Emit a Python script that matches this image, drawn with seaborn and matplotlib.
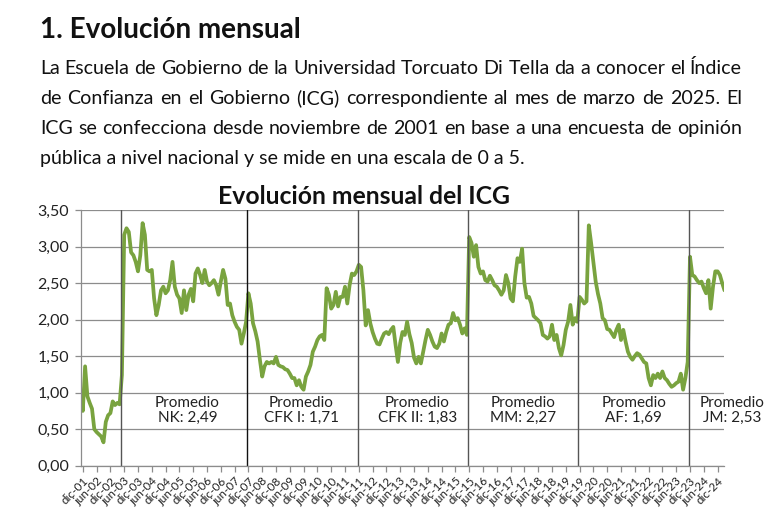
import matplotlib
matplotlib.use('Agg')
import matplotlib.pyplot as plt
import pandas as pd
import seaborn as sns

# ICG mensual (nov-01 a mar-25), separados por gobierno
icg_previo = [1.01, 0.75, 1.36, 0.95, 0.86, 0.78, 0.50, 0.46, 0.43, 0.40,
              0.32, 0.60, 0.69, 0.72, 0.88, 0.83, 0.86, 0.84, 1.24]
icg_nk = [3.16, 3.25, 3.20, 2.92, 2.88, 2.79, 2.66, 2.88, 3.32,
          3.16, 2.68, 2.66, 2.68, 2.29, 2.06, 2.20, 2.40, 2.45, 2.36,
          2.40, 2.54, 2.79, 2.45, 2.34, 2.29, 2.09, 2.40, 2.13, 2.34,
          2.42, 2.25, 2.63, 2.70, 2.61, 2.50, 2.68, 2.52, 2.47, 2.50,
          2.54, 2.47, 2.34, 2.52, 2.68, 2.56, 2.20, 2.22, 2.06, 1.97,
          1.90, 1.86, 1.67, 1.81, 1.97]
icg_cfk1 = [2.36, 2.22, 1.95, 1.84, 1.70, 1.45, 1.22, 1.36, 1.42, 1.40,
            1.42, 1.40, 1.49, 1.38, 1.36, 1.35, 1.32, 1.31, 1.26, 1.20,
            1.20, 1.10, 1.17, 1.08, 1.04, 1.22, 1.29, 1.38, 1.56, 1.63,
            1.72, 1.77, 1.79, 1.72, 2.43, 2.34, 2.15, 2.20, 2.38, 2.18,
            2.31, 2.31, 2.45, 2.22, 2.47, 2.63, 2.61, 2.66]
icg_cfk2 = [2.75, 2.72, 2.40, 1.92, 2.13, 1.95, 1.83, 1.74, 1.67, 1.66,
            1.74, 1.81, 1.83, 1.80, 1.86, 1.90, 1.65, 1.42, 1.68, 1.83,
            1.79, 1.97, 1.80, 1.68, 1.48, 1.40, 1.49, 1.40, 1.56, 1.72,
            1.86, 1.79, 1.70, 1.63, 1.61, 1.67, 1.81, 1.70, 1.83, 1.93,
            1.95, 2.09, 1.99, 2.02, 1.93, 1.81, 1.88, 1.79]
icg_mm = [3.13, 3.05, 2.86, 3.02, 2.72, 2.63, 2.66, 2.54, 2.52, 2.60,
          2.54, 2.47, 2.45, 2.40, 2.34, 2.40, 2.61, 2.50, 2.29, 2.25,
          2.59, 2.84, 2.79, 2.97, 2.50, 2.30, 2.31, 2.22, 2.05, 2.02,
          1.99, 1.95, 1.79, 1.77, 1.74, 1.77, 1.93, 1.72, 1.79, 1.61,
          1.51, 1.65, 1.86, 1.97, 2.20, 1.93, 2.02, 1.97]
icg_af = [2.31, 2.27, 2.22, 2.25, 3.29, 3.05, 2.79, 2.52, 2.35, 2.22,
          2.02, 1.99, 1.87, 1.86, 1.81, 1.76, 1.86, 1.93, 1.72, 1.86,
          1.70, 1.56, 1.49, 1.45, 1.50, 1.54, 1.52, 1.47, 1.42, 1.40,
          1.20, 1.10, 1.24, 1.20, 1.26, 1.20, 1.29, 1.20, 1.17, 1.12,
          1.08, 1.10, 1.13, 1.15, 1.26, 1.04, 1.20, 1.42]
icg_jm = [2.86, 2.61, 2.59, 2.54, 2.50, 2.52, 2.43, 2.36, 2.54, 2.15,
          2.45, 2.66, 2.66, 2.61, 2.50, 2.40]

meses_abrev = ['ene', 'feb', 'mar', 'abr', 'may', 'jun',
               'jul', 'ago', 'sep', 'oct', 'nov', 'dic']
cambios_gobierno = ['may-03', 'dic-07', 'dic-11', 'dic-15', 'dic-19', 'dic-23']
promedios = ['NK: 2,49', 'CFK I: 1,71', 'CFK II: 1,83', 'MM: 2,27', 'AF: 1,69', 'JM: 2,53']

titulo = '1. Evolución mensual'
parrafo = [
    'La Escuela de Gobierno de la Universidad Torcuato Di Tella da a conocer el Índice',
    'de Confianza en el Gobierno (ICG) correspondiente al mes de marzo de 2025. El',
    'ICG se confecciona desde noviembre de 2001 en base a una encuesta de opinión',
    'pública a nivel nacional y se mide en una escala de 0 a 5.',
]
titulo_grafico = 'Evolución mensual del ICG'

icg = icg_previo + icg_nk + icg_cfk1 + icg_cfk2 + icg_mm + icg_af + icg_jm
meses = []
for k in range(len(icg)):
    m = 10 + k
    meses.append(f'{meses_abrev[m % 12]}-{(2001 + m // 12) % 100:02d}')
df = pd.DataFrame({'n': range(len(icg)), 'mes': meses, 'icg': icg})

sns.set_style('white')
plt.rcParams['font.family'] = ['Lato', 'DejaVu Sans']

W, H = 780, 528
fig = plt.figure(figsize=(W / 100, H / 100), dpi=100)
renderer = fig.canvas.get_renderer()

# textos de cabecera
def texto_ajustado(x0, x1, y, s, weight='normal', size=12):
    t = fig.text(x0 / W, 1 - y / H, s, fontsize=size, fontweight=weight,
                 va='baseline', ha='left', color='#111111')
    w = t.get_window_extent(renderer).width
    t.set_fontsize(size * (x1 - x0) / w)
    return t

def linea_justificada(x0, x1, y, linea, size):
    palabras = linea.split(' ')
    ts = [fig.text(0, 1 - y / H, p, fontsize=size, va='baseline', ha='left',
                   color='#111111') for p in palabras]
    anchos = [t.get_window_extent(renderer).width for t in ts]
    hueco = (x1 - x0 - sum(anchos)) / (len(palabras) - 1)
    x = x0
    for t, a in zip(ts, anchos):
        t.set_x(x / W)
        x += a + hueco

texto_ajustado(40, 302, 37.5, titulo, weight='bold', size=18)
ult = texto_ajustado(40, 523, 164, parrafo[3], size=13)
size_par = ult.get_fontsize()
for linea, y in zip(parrafo[:3], [74, 104, 134]):
    linea_justificada(40, 742, y, linea, size_par)
texto_ajustado(218, 512, 204, titulo_grafico, weight='bold', size=16)

# gráfico
ax = fig.add_axes([80.5 / W, 1 - 465.7 / H, 644 / W, 255.7 / H])
sns.lineplot(data=df, x='n', y='icg', ax=ax, color='#79A33F', linewidth=2.7)
ax.set_xlim(0, len(icg) - 1)
ax.set_ylim(0, 3.5)

gris = '#8c8c8c'
ax.set_yticks([i * 0.5 for i in range(8)])
ax.set_yticklabels([f'{i * 0.5:.2f}'.replace('.', ',') for i in range(8)], fontsize=11.5)
ax.yaxis.grid(True, color=gris, linewidth=0.9)
ax.set_axisbelow(True)

pos_ticks = list(range(1, len(icg), 6))
ax.set_xticks(pos_ticks)
ax.set_xticklabels([meses[p] for p in pos_ticks], rotation=45, ha='right',
                   rotation_mode='anchor', fontsize=8.5)
ax.tick_params(axis='both', direction='out', length=4, color=gris, width=0.9,
               colors='#222222', bottom=True, left=True)
ax.tick_params(axis='x', pad=3)
ax.tick_params(axis='y', pad=4)
for lado in ['top', 'right']:
    ax.spines[lado].set_visible(False)
for lado in ['left', 'bottom']:
    ax.spines[lado].set_color(gris)
    ax.spines[lado].set_linewidth(0.9)

for i, c in enumerate(cambios_gobierno):
    x = meses.index(c) - 0.5
    ax.axvline(x, color='#111111' if c == 'dic-07' else '#555555', linewidth=1.0)

pos_promedio = [46.5, 96, 146.5, 192.5, 240.5, 283.5]
for x, txt in zip(pos_promedio, promedios):
    ax.text(x, 0.755, 'Promedio\n' + txt, ha='center', va='center',
            fontsize=11, color='#222222', linespacing=1.1, clip_on=False)

ax.set_xlabel('')
ax.set_ylabel('')

fig.savefig('out.png', dpi=100)
